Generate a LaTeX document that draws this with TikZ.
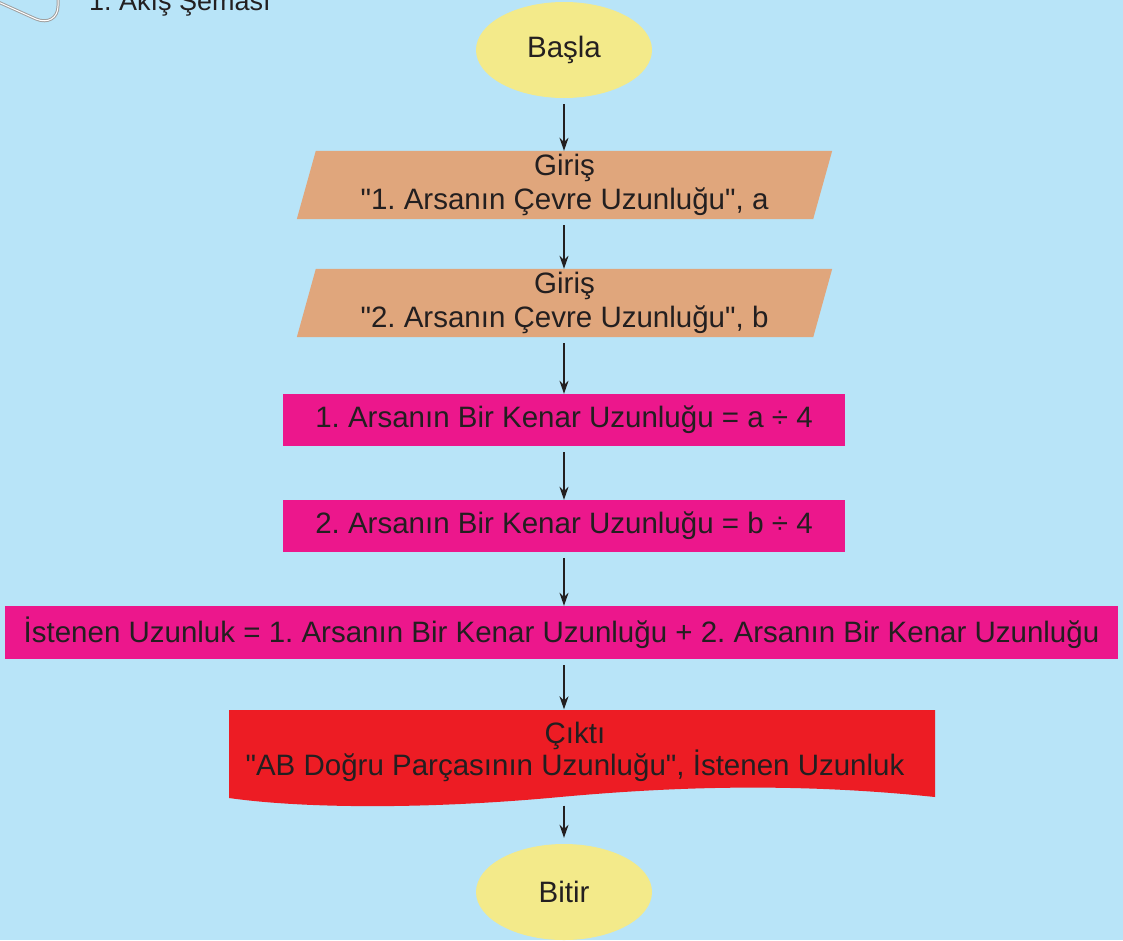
\documentclass[tikz,border=0pt]{standalone}
\usepackage{fontspec}
\setmainfont{Liberation Sans}[Ligatures=TeXOff]
\usetikzlibrary{shapes.geometric,arrows.meta,backgrounds}
\definecolor{bgblue}{HTML}{B8E4F8}
\definecolor{termyel}{HTML}{F3EA8A}
\definecolor{iotan}{HTML}{E0A67C}
\definecolor{procmag}{HTML}{EC178C}
\definecolor{outred}{HTML}{ED1C24}
\definecolor{txt}{HTML}{231F20}
\frenchspacing
\tikzset{
  every node/.style={text=txt, font=\fontsize{29.5}{34}\selectfont, align=center, inner sep=0pt},
  terminal/.style={ellipse, fill=termyel, minimum width=176pt, minimum height=96pt},
  iobox/.style={rectangle, minimum width=516pt, minimum height=68pt},
  procbox/.style={rectangle, fill=procmag, minimum height=52pt},
  docbox/.style={rectangle, minimum width=706pt, minimum height=87pt},
  flow/.style={draw=txt, line width=1.4pt, -{Stealth[length=13pt,width=9pt]}, shorten <=6pt}
}
\begin{document}
\begin{tikzpicture}[x=1pt,y=-1pt]
\useasboundingbox (0,0) rectangle (1123,940);
\clip (0,0) rectangle (1123,940);
\coordinate (spine) at (564,0);
% caption (cut off at top)
\draw[gray!75, line width=3pt, line cap=round] (-4,1) -- (36,19) .. controls (48,24) and (58,18) .. (58,6) -- (58,-4);
\draw[white, line width=1pt] (-4,1) -- (36,19) .. controls (48,24) and (58,18) .. (58,6) -- (58,-4);
\node[anchor=base west, font=\fontsize{27}{32}\selectfont] (cap) at (89,10) {1. Akış Şeması};
% nodes
\node[terminal] (basla) at (564,50) {\raisebox{-2pt}{Başla}};
\node[iobox] (in1) at (564.5,185) {Giriş\\"1. Arsanın Çevre Uzunluğu", a};
\node[iobox] (in2) at (564.5,303) {Giriş\\"2. Arsanın Çevre Uzunluğu", b};
\node[procbox, minimum width=562pt] (p1) at (564,420) {1. Arsanın Bir Kenar Uzunluğu = a ÷ 4};
\node[procbox, minimum width=562pt] (p2) at (564,526) {2. Arsanın Bir Kenar Uzunluğu = b ÷ 4};
\node[procbox, minimum width=1113pt, minimum height=53pt] (p3) at (561.5,632.5) {İstenen Uzunluk = 1. Arsanın Bir Kenar Uzunluğu + 2. Arsanın Bir Kenar Uzunluğu};
\node[docbox] (out) at (582,752) {\hspace*{-14pt}Çıktı\\[-2pt]\hspace*{-14pt}"AB Doğru Parçasının Uzunluğu", İstenen Uzunluk};
\node[terminal] (bitir) at (564,892) {Bitir};
% shapes behind text
\begin{scope}[on background layer]
\fill[bgblue] (0,0) rectangle (1123,940);
\foreach \n in {in1,in2}{
  \fill[iotan] ([xshift=9.5pt]\n.north west) -- ([xshift=9.5pt]\n.north east) -- ([xshift=-9.5pt]\n.south east) -- ([xshift=-9.5pt]\n.south west) -- cycle;
}
\fill[outred] (229,710) -- (935,710) -- (935,797)
  .. controls (800,783) and (680,786) .. (560,797)
  .. controls (420,810) and (300,808) .. (229,798) -- cycle;
\end{scope}
% connectors
\draw[flow] (basla.south -| spine) -- (in1.north -| spine);
\draw[flow] (in1.south -| spine) -- (in2.north -| spine);
\draw[flow] (in2.south -| spine) -- (p1.north -| spine);
\draw[flow] (p1.south -| spine) -- (p2.north -| spine);
\draw[flow] (p2.south -| spine) -- (p3.north -| spine);
\draw[flow, shorten >=-1pt] (p3.south -| spine) -- (out.north -| spine);
\draw[flow, shorten <=10pt, shorten >=6pt] (out.south -| spine) -- (bitir.north);
\end{tikzpicture}
\end{document}
